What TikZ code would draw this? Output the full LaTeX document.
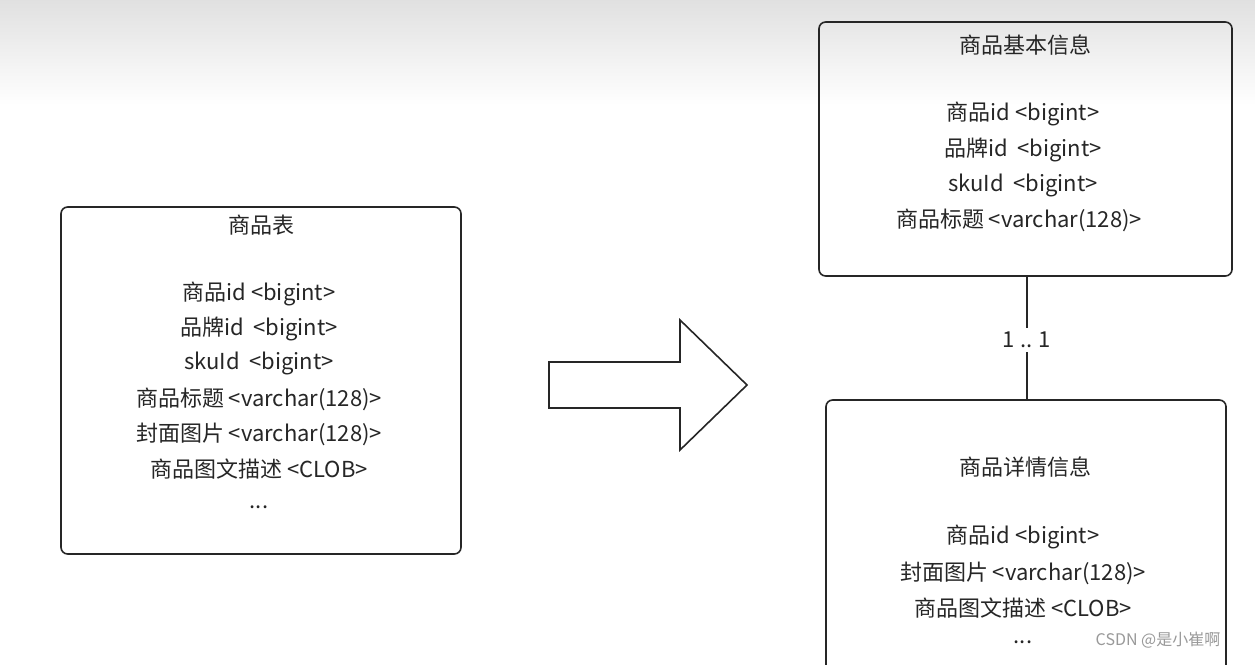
\documentclass[tikz,border=0pt]{standalone}
\usepackage{fontspec}
\setmainfont{Noto Sans CJK SC}
\begin{document}
\begin{tikzpicture}[x=0.75pt,y=-0.75pt,
  box/.style={draw=black!85,line width=1.2pt,rounded corners=5pt},
  txt/.style={font=\fontsize{16.5}{20}\selectfont,text=black!85,inner sep=0pt}]
\useasboundingbox (0,0) rectangle (1255,664);
\clip (0,0) rectangle (1255,664);
\fill[white] (0,0) rectangle (1255,664);
\shade[top color=black!12,bottom color=white] (0,0) rectangle (1255,105);
% left box
\draw[box] (61,207) rectangle (461,554);
\node[txt] (lt) at (261,225) {商品表};
\node[txt] (l1) at (259,294) {商品id <bigint>};
\node[txt] (l2) at (259,329) {品牌id \ <bigint>};
\node[txt] (l3) at (259,363) {skuId \ <bigint>};
\node[txt] (l4) at (259,399) {商品标题 <varchar(128)>};
\node[txt] (l5) at (259,434) {封面图片 <varchar(128)>};
\node[txt] (l6) at (259,469) {商品图文描述 <CLOB>};
\node[txt] (l7) at (259,507) {...};
% arrow
\draw[black!85,line width=1.2pt,line join=miter] (549,362)--(680,362)--(680,320)--(747,385)--(680,450)--(680,408)--(549,408)--cycle;
% top right box
\draw[box] (819,22) rectangle (1232,276);
\node[txt] (rt) at (1025,45) {商品基本信息};
\node[txt] at (1023,114) {商品id <bigint>};
\node[txt] at (1023,150) {品牌id \ <bigint>};
\node[txt] at (1023,185) {skuId \ <bigint>};
\node[txt] at (1019,220) {商品标题 <varchar(128)>};
% connector
\coordinate (c1) at (1027,276);
\coordinate (c2) at (1027,400);
\node[txt,fill=white,inner sep=3pt] (lab) at (1027,340) {1 .. 1};
\draw[black!85,line width=1.2pt] (c1)--(lab.north);
\draw[black!85,line width=1.2pt] (lab.south)--(c2);
% bottom right box
\draw[box] (826,400) rectangle (1226,720);
\node[txt] (bt) at (1025,467) {商品详情信息};
\node[txt] at (1023,537) {商品id <bigint>};
\node[txt] at (1023,573) {封面图片 <varchar(128)>};
\node[txt] at (1023,608) {商品图文描述 <CLOB>};
\node[txt] at (1023,642) {...};
\node[inner sep=0pt,font=\fontsize{12}{14}\selectfont,text=black!40] (wm) at (1158,640) {CSDN @是小崔啊};
\end{tikzpicture}
\end{document}
